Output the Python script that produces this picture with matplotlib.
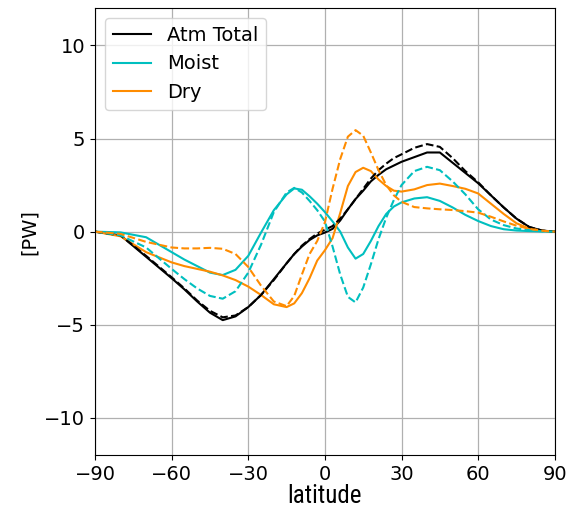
import matplotlib
matplotlib.use('Agg')
import matplotlib.pyplot as plt
from matplotlib import font_manager

# latitude grid (deg) and meridional energy transport (PW)
lat = [-90, -80, -70, -60, -55, -50, -45, -40, -35, -30, -25, -20, -15, -12, -9, -6, -3,
       0, 3, 6, 9, 12, 15, 18, 21, 24, 27, 30, 35, 40, 45, 50, 55, 60, 65, 70, 75, 80, 85, 90]

atm_solid = [0, -0.2, -1.35, -2.5, -3.1, -3.75, -4.35, -4.75, -4.55, -4.05, -3.4, -2.55, -1.7, -1.2, -0.8,
             -0.45, -0.2, -0.05, 0.15, 0.6, 1.2, 1.75, 2.2, 2.7, 3.05, 3.35, 3.55, 3.75, 4.0, 4.25,
             4.25, 3.7, 3.15, 2.6, 1.95, 1.3, 0.7, 0.25, 0.06, 0]
atm_dash = [0, -0.2, -1.3, -2.45, -3.05, -3.7, -4.25, -4.6, -4.5, -4.05, -3.4, -2.6, -1.7, -1.2, -0.75,
            -0.4, -0.1, 0.1, 0.3, 0.7, 1.2, 1.75, 2.3, 2.85, 3.3, 3.65, 3.95, 4.15, 4.5, 4.7,
            4.55, 3.95, 3.25, 2.65, 1.95, 1.3, 0.7, 0.25, 0.06, 0]
moist_solid = [0, -0.04, -0.3, -1.1, -1.5, -1.85, -2.2, -2.33, -2.05, -1.3, -0.05, 1.15, 2.0, 2.32, 2.25,
               1.9, 1.5, 1.05, 0.55, 0.0, -0.85, -1.45, -1.2, -0.5, 0.3, 0.95, 1.35, 1.57, 1.78, 1.85,
               1.65, 1.3, 0.9, 0.57, 0.3, 0.13, 0.06, 0.03, 0.01, 0]
moist_dash = [0, -0.2, -0.85, -2.0, -2.55, -3.05, -3.45, -3.6, -3.2, -2.2, -0.7, 1.05, 2.1, 2.35, 2.1,
              1.65, 1.15, 0.55, -0.8, -2.3, -3.5, -3.8, -3.0, -1.75, -0.4, 0.75, 1.7, 2.5, 3.25, 3.48,
              3.3, 2.7, 2.0, 1.2, 0.65, 0.35, 0.17, 0.08, 0.02, 0]
dry_solid = [0, -0.25, -1.1, -1.65, -1.85, -2.0, -2.15, -2.35, -2.6, -2.95, -3.4, -3.9, -4.05, -3.85, -3.3,
             -2.5, -1.55, -1.0, -0.35, 1.0, 2.45, 3.2, 3.43, 3.25, 2.8, 2.45, 2.2, 2.15, 2.27, 2.5,
             2.58, 2.45, 2.3, 2.05, 1.5, 0.95, 0.45, 0.17, 0.04, 0]
dry_dash = [0, -0.12, -0.55, -0.85, -0.9, -0.9, -0.87, -0.92, -1.2, -1.9, -2.9, -3.75, -4.0, -3.45, -2.3,
            -1.2, -0.5, 0.5, 2.3, 3.9, 5.1, 5.45, 5.15, 4.25, 3.3, 2.5, 1.95, 1.6, 1.32, 1.25,
            1.2, 1.16, 1.1, 1.02, 0.8, 0.55, 0.32, 0.15, 0.05, 0]


def narrow_font():
    # pick a condensed face for the x label if one is installed
    names = set(f.name for f in font_manager.fontManager.ttflist)
    for n in ['Liberation Sans Narrow', 'Arial Narrow', 'Roboto Condensed', 'Open Sans Condensed']:
        if n in names:
            return dict(family=n)
    return dict(family='DejaVu Sans', stretch='condensed')


def main():
    fig = plt.figure(figsize=(5.69, 5.08), dpi=100)
    ax = fig.add_axes([0.167, 0.104, 0.808, 0.88])
    lw = 1.5
    ax.plot(lat, atm_solid, color='k', lw=lw, label='Atm Total')
    ax.plot(lat, moist_solid, color='c', lw=lw, label='Moist')
    ax.plot(lat, dry_solid, color='darkorange', lw=lw, label='Dry')
    ax.plot(lat, atm_dash, color='k', lw=lw, ls='--')
    ax.plot(lat, moist_dash, color='c', lw=lw, ls='--')
    ax.plot(lat, dry_dash, color='darkorange', lw=lw, ls='--')
    ax.set_xlim(-90, 90)
    ax.set_ylim(-12, 12)
    ax.set_xticks([-90, -60, -30, 0, 30, 60, 90])
    ax.set_yticks([-10, -5, 0, 5, 10])
    ax.tick_params(labelsize=14)
    ax.grid(True, color='#b0b0b0', lw=0.9)
    ax.set_ylabel('[PW]', fontsize=14)
    ax.set_xlabel('latitude', fontsize=18, labelpad=0, **narrow_font())
    ax.legend(loc='upper left', fontsize=14, handlelength=2)
    fig.savefig('out.png', dpi=100)


main()
